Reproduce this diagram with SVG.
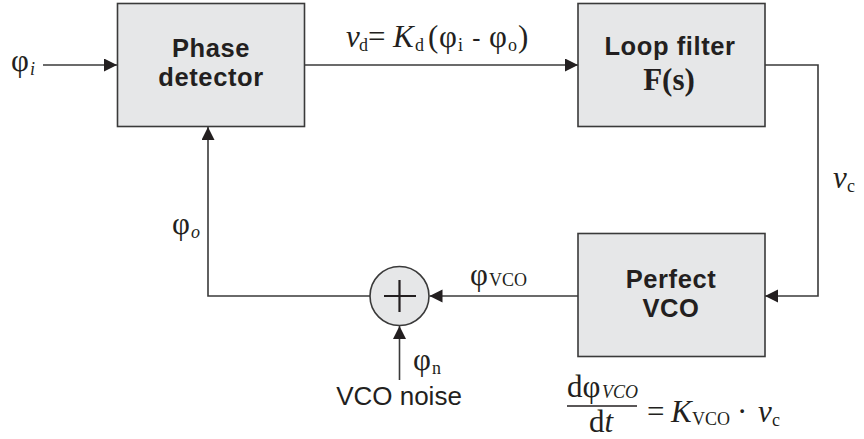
<svg xmlns="http://www.w3.org/2000/svg" width="864" height="439" viewBox="0 0 864 439">
<style>
.box{fill:#e6e7e8;stroke:#3a3a3a;stroke-width:1.6}
.ln{fill:none;stroke:#3a3a3a;stroke-width:1.6}
.lbl{font-family:"Liberation Sans",Arial,sans-serif;font-weight:bold;font-size:25.5px;letter-spacing:0.6px;fill:#231f20;text-anchor:middle}
.sans{font-family:"Liberation Sans",Arial,sans-serif;font-size:26px;fill:#231f20}
.m{font-family:"Liberation Serif","Times New Roman",serif;font-size:31px;fill:#231f20}
.s{font-size:18px}
.i{font-style:italic}
</style>
<defs>
<marker id="ar" markerUnits="userSpaceOnUse" markerWidth="14" markerHeight="14" refX="13" refY="6.5" orient="auto">
<path d="M0,0 L13,6.5 L0,13 z" fill="#231f20"/>
</marker>
</defs>
<rect width="864" height="439" fill="#fff"/>
<g id="connectors">
<path class="ln" d="M43,65 H117" marker-end="url(#ar)"/>
<path class="ln" d="M304,65 H578" marker-end="url(#ar)"/>
<path class="ln" d="M765,65 H818 V296 H765" marker-end="url(#ar)"/>
<path class="ln" d="M578,296 H429.5" marker-end="url(#ar)"/>
<path class="ln" d="M370,296 H208 V127" marker-end="url(#ar)"/>
<path class="ln" d="M399.5,380 V326" marker-end="url(#ar)"/>
</g>
<g id="phase-detector">
<rect class="box" x="117.5" y="3.5" width="187" height="123"/>
<text class="lbl" x="211" y="57">Phase</text>
<text class="lbl" x="211" y="86">detector</text>
</g>
<g id="loop-filter">
<rect class="box" x="578" y="3.5" width="187" height="123"/>
<text class="lbl" x="670" y="55">Loop filter</text>
<text class="m" x="669" y="90" text-anchor="middle" font-weight="bold" font-size="27">F(s)</text>
</g>
<g id="perfect-vco">
<rect class="box" x="578" y="233.5" width="187" height="123"/>
<text class="lbl" x="671" y="288">Perfect</text>
<text class="lbl" x="671" y="317">VCO</text>
</g>
<g id="summer">
<circle cx="399.5" cy="296" r="29.5" fill="#e6e7e8" stroke="#3a3a3a" stroke-width="1.6"/>
<path d="M384,296 H416 M399.5,280 V312" stroke="#231f20" stroke-width="2.2"/>
</g>
<g id="labels">
<text class="m"><tspan x="11" y="71">φ</tspan><tspan class="s i" x="30" y="75">i</tspan></text>
<text class="m"><tspan class="i" x="346" y="47">v</tspan><tspan class="s" x="359" y="51">d</tspan><tspan x="368" y="47">=</tspan><tspan class="i" x="393" y="47">K</tspan><tspan class="s" x="415" y="51">d</tspan><tspan x="428" y="47">(</tspan><tspan x="439" y="47">φ</tspan><tspan class="s" x="458" y="51">i</tspan><tspan x="472" y="47" font-family="Liberation Sans" font-size="26">-</tspan><tspan x="489" y="47">φ</tspan><tspan class="s" x="508" y="51">o</tspan><tspan x="518" y="47">)</tspan></text>
<text class="m"><tspan class="i" x="833" y="188">v</tspan><tspan class="s" x="847" y="192">c</tspan></text>
<text class="m"><tspan x="172" y="234">φ</tspan><tspan class="s i" x="191" y="238">o</tspan></text>
<text class="m"><tspan x="470" y="285">φ</tspan><tspan class="s" x="489" y="286">VCO</tspan></text>
<text class="m"><tspan x="413" y="370">φ</tspan><tspan class="s" x="432" y="374">n</tspan></text>
<text class="sans" x="399" y="405" text-anchor="middle">VCO noise</text>
<text class="m"><tspan x="567" y="397">dφ</tspan><tspan class="s i" x="602" y="398">VCO</tspan></text>
<path d="M567,406 H637" stroke="#231f20" stroke-width="1.4"/>
<text class="m" x="601" y="432" text-anchor="middle">d<tspan class="i">t</tspan></text>
<text class="m"><tspan x="647" y="422">=</tspan><tspan class="i" x="671" y="422">K</tspan><tspan class="s" x="692" y="425">VCO</tspan><tspan x="737" y="422">·</tspan><tspan class="i" x="758" y="422">v</tspan><tspan class="s" x="772" y="426">c</tspan></text>
</g>
</svg>
